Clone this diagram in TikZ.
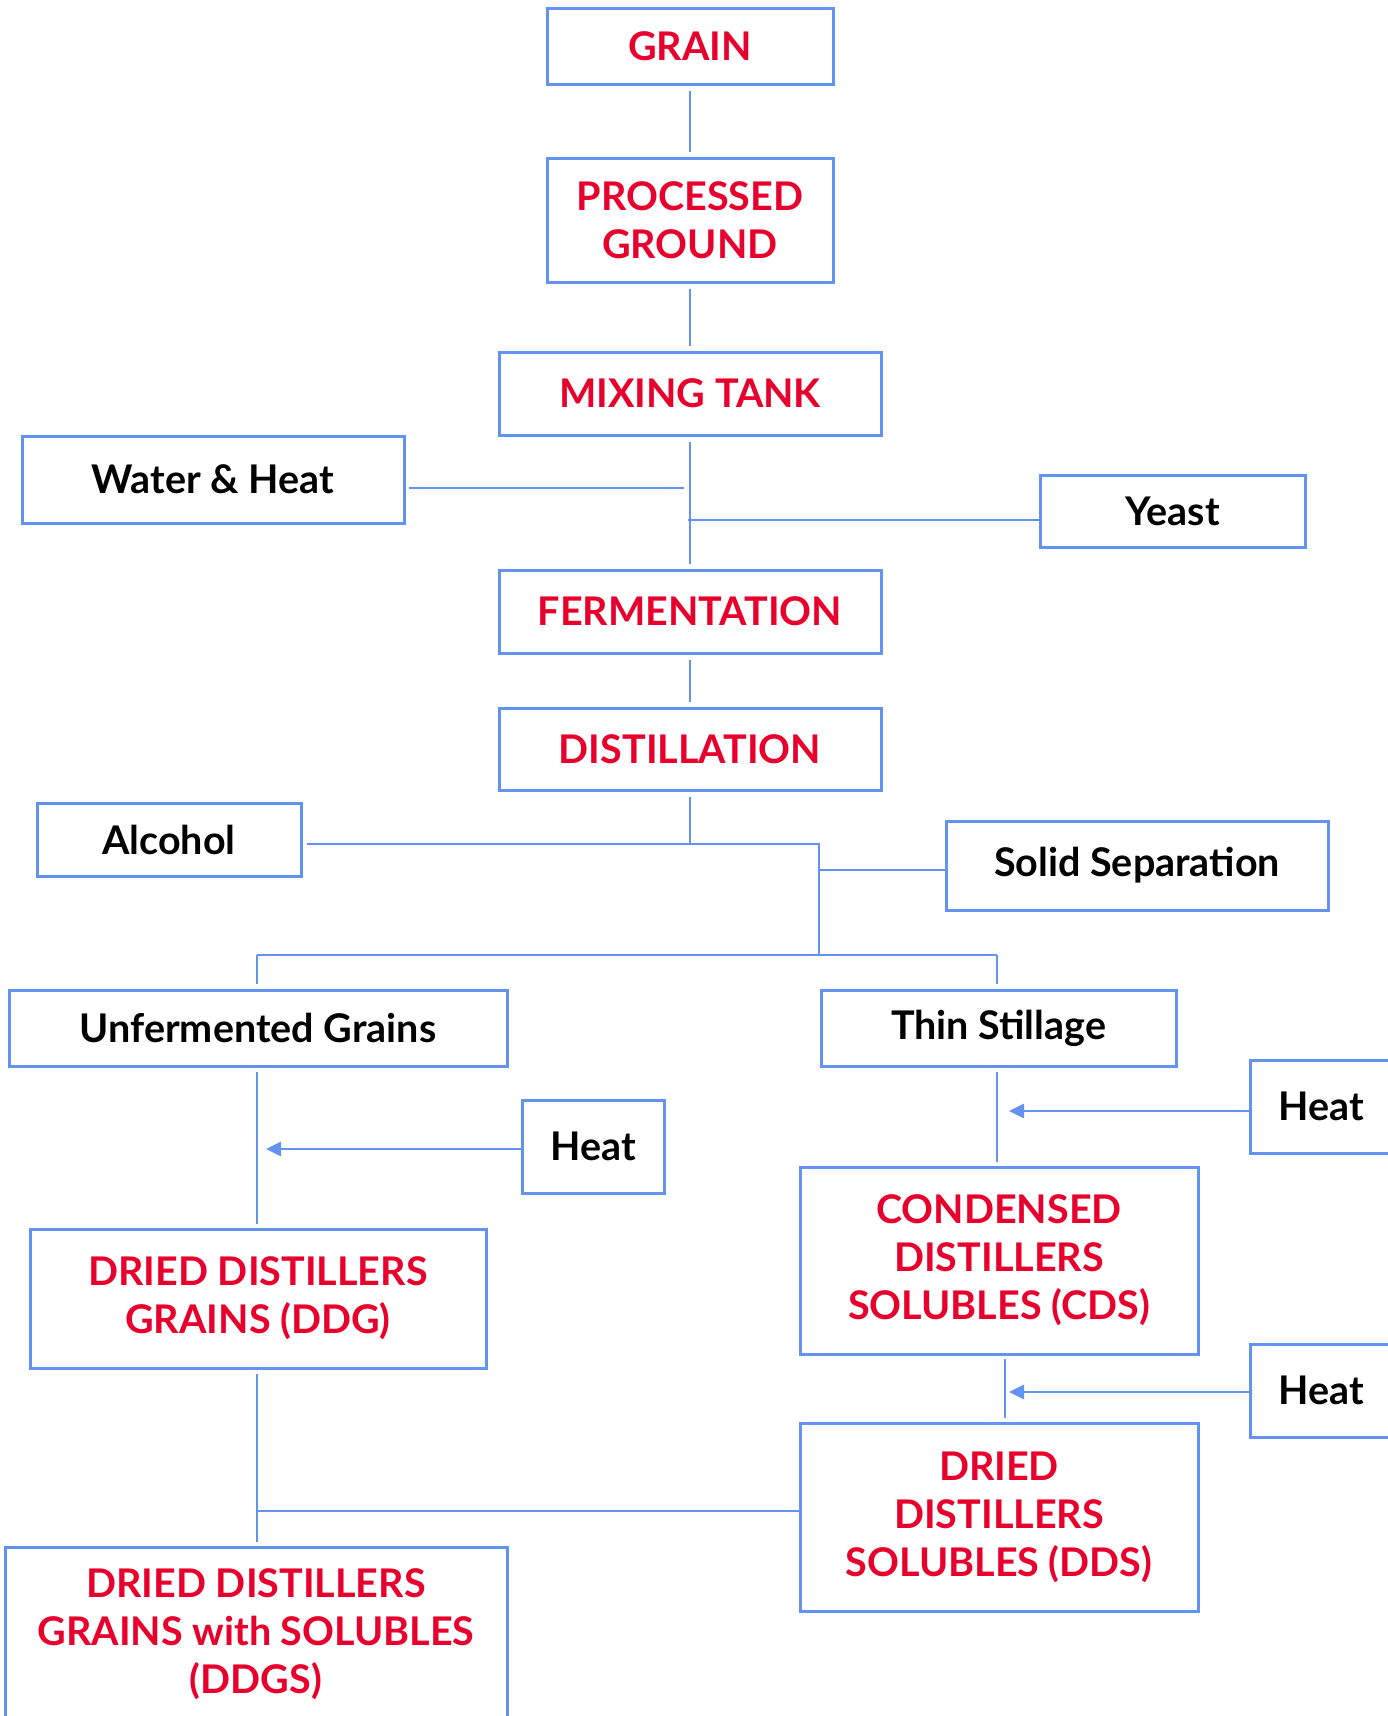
\documentclass[tikz,border=0pt]{standalone}
\usepackage{fontspec}
\setmainfont{Lato}
\usetikzlibrary{arrows.meta}
\definecolor{lineblue}{RGB}{100,146,240}
\definecolor{textred}{RGB}{232,0,45}
\begin{document}
\begin{tikzpicture}[x=1pt,y=-1pt,
  box/.style={draw=lineblue,line width=3pt,inner sep=0pt,align=center,font=\fontsize{39.5}{48}\selectfont\bfseries},
  redbox/.style={box,text=textred},
  blackbox/.style={box,text=black},
  conn/.style={draw=lineblue,line width=2.8pt},
  gapped/.style={conn,shorten <=5pt,shorten >=5pt},
  arr/.style={conn,-{Triangle[length=15pt,width=14pt]}},
]
\useasboundingbox (0,0) rectangle (1388,1716);
\clip (0,0) rectangle (1388,1716);
% nodes
\node[redbox,minimum width=286pt,minimum height=76pt] (grain) at (690,46) {GRAIN};
\node[redbox,minimum width=286pt,minimum height=124pt] (proc) at (690,220) {PROCESSED\\GROUND};
\node[redbox,minimum width=382pt,minimum height=83pt] (mix) at (690,393.5) {MIXING TANK};
\node[blackbox,minimum width=382pt,minimum height=87pt] (water) at (213,479.5) {Water \& Heat};
\node[blackbox,minimum width=265pt,minimum height=72pt] (yeast) at (1172.5,511) {Yeast};
\node[redbox,minimum width=382pt,minimum height=83pt] (ferm) at (690,611.5) {FERMENTATION};
\node[redbox,minimum width=382pt,minimum height=82pt] (dist) at (690,749) {DISTILLATION};
\node[blackbox,minimum width=264pt,minimum height=73pt] (alcohol) at (169,839.5) {Alcohol};
\node[blackbox,minimum width=382pt,minimum height=89pt] (solid) at (1137,865.5) {Solid Separation};
\node[blackbox,minimum width=498pt,minimum height=76pt] (unf) at (258,1028) {Unfermented Grains};
\node[blackbox,minimum width=355pt,minimum height=76pt] (thin) at (998.5,1028) {Thin Stillage};
\node[blackbox,minimum width=142pt,minimum height=93pt] (heatL) at (593,1146.5) {Heat};
\node[blackbox,minimum width=142pt,minimum height=93pt] (heatR1) at (1321,1106.5) {Heat};
\node[redbox,minimum width=398pt,minimum height=187pt] (cds) at (999,1260.5) {CONDENSED\\DISTILLERS\\SOLUBLES (CDS)};
\node[blackbox,minimum width=142pt,minimum height=93pt] (heatR2) at (1321,1390.5) {Heat};
\node[redbox,minimum width=456pt,minimum height=139pt] (ddg) at (258,1298.5) {DRIED DISTILLERS\\GRAINS (DDG)};
\node[redbox,minimum width=398pt,minimum height=188pt] (dds) at (999,1517) {DRIED\\DISTILLERS\\SOLUBLES (DDS)};
\node[redbox,minimum width=502pt,minimum height=174pt] (ddgs) at (256,1634) {DRIED DISTILLERS\\GRAINS with SOLUBLES\\(DDGS)};
% junction coordinates
\coordinate (wj) at (684,488);
\coordinate (yj) at (688,520);
\coordinate (aj) at (819,844);
\coordinate (ssj) at (819,870);
\coordinate (sj) at (819,955);
\coordinate (bl) at (257,955);
\coordinate (br) at (997,955);
\coordinate (htipL) at (266,1149);
\coordinate (htip1) at (1009,1111);
\coordinate (htip2) at (1009,1392);
\coordinate (jj) at (257,1511);
% connectors
\draw[gapped] (grain) -- (proc);
\draw[gapped] (proc) -- (mix);
\draw[gapped] (mix) -- (ferm);
\draw[conn] ([xshift=3pt]water.east |- wj) -- (wj);
\draw[conn] (yj) -- (yeast.west |- yj);
\draw[gapped] (ferm) -- (dist);
\draw[conn] ([yshift=-5pt]dist.south) -- (dist.south |- aj);
\draw[conn] ([xshift=4pt]alcohol.east |- aj) -- (aj) -- (sj);
\draw[conn] (ssj) -- (solid.west |- ssj);
\draw[conn] (bl) -- (br);
\draw[conn,shorten >=5pt] (bl) -- (bl |- unf.north);
\draw[conn,shorten >=5pt] (br) -- (br |- thin.north);
\draw[conn,shorten <=4pt,shorten >=4pt] (bl |- unf.south) -- (bl |- ddg.north);
\draw[arr] (heatL.west |- htipL) -- (htipL);
\draw[conn,shorten <=4pt,shorten >=4pt] (br |- thin.south) -- (br |- cds.north);
\draw[arr] (heatR1.west |- htip1) -- (htip1);
\draw[conn,shorten <=3pt,shorten >=4pt] ([xshift=6pt]cds.south) -- ([xshift=6pt]dds.north);
\draw[arr] (heatR2.west |- htip2) -- (htip2);
\draw[conn,shorten <=4pt,shorten >=4pt] (bl |- ddg.south) -- (bl |- ddgs.north);
\draw[conn] (jj) -- (dds.west |- jj);
\end{tikzpicture}
\end{document}
